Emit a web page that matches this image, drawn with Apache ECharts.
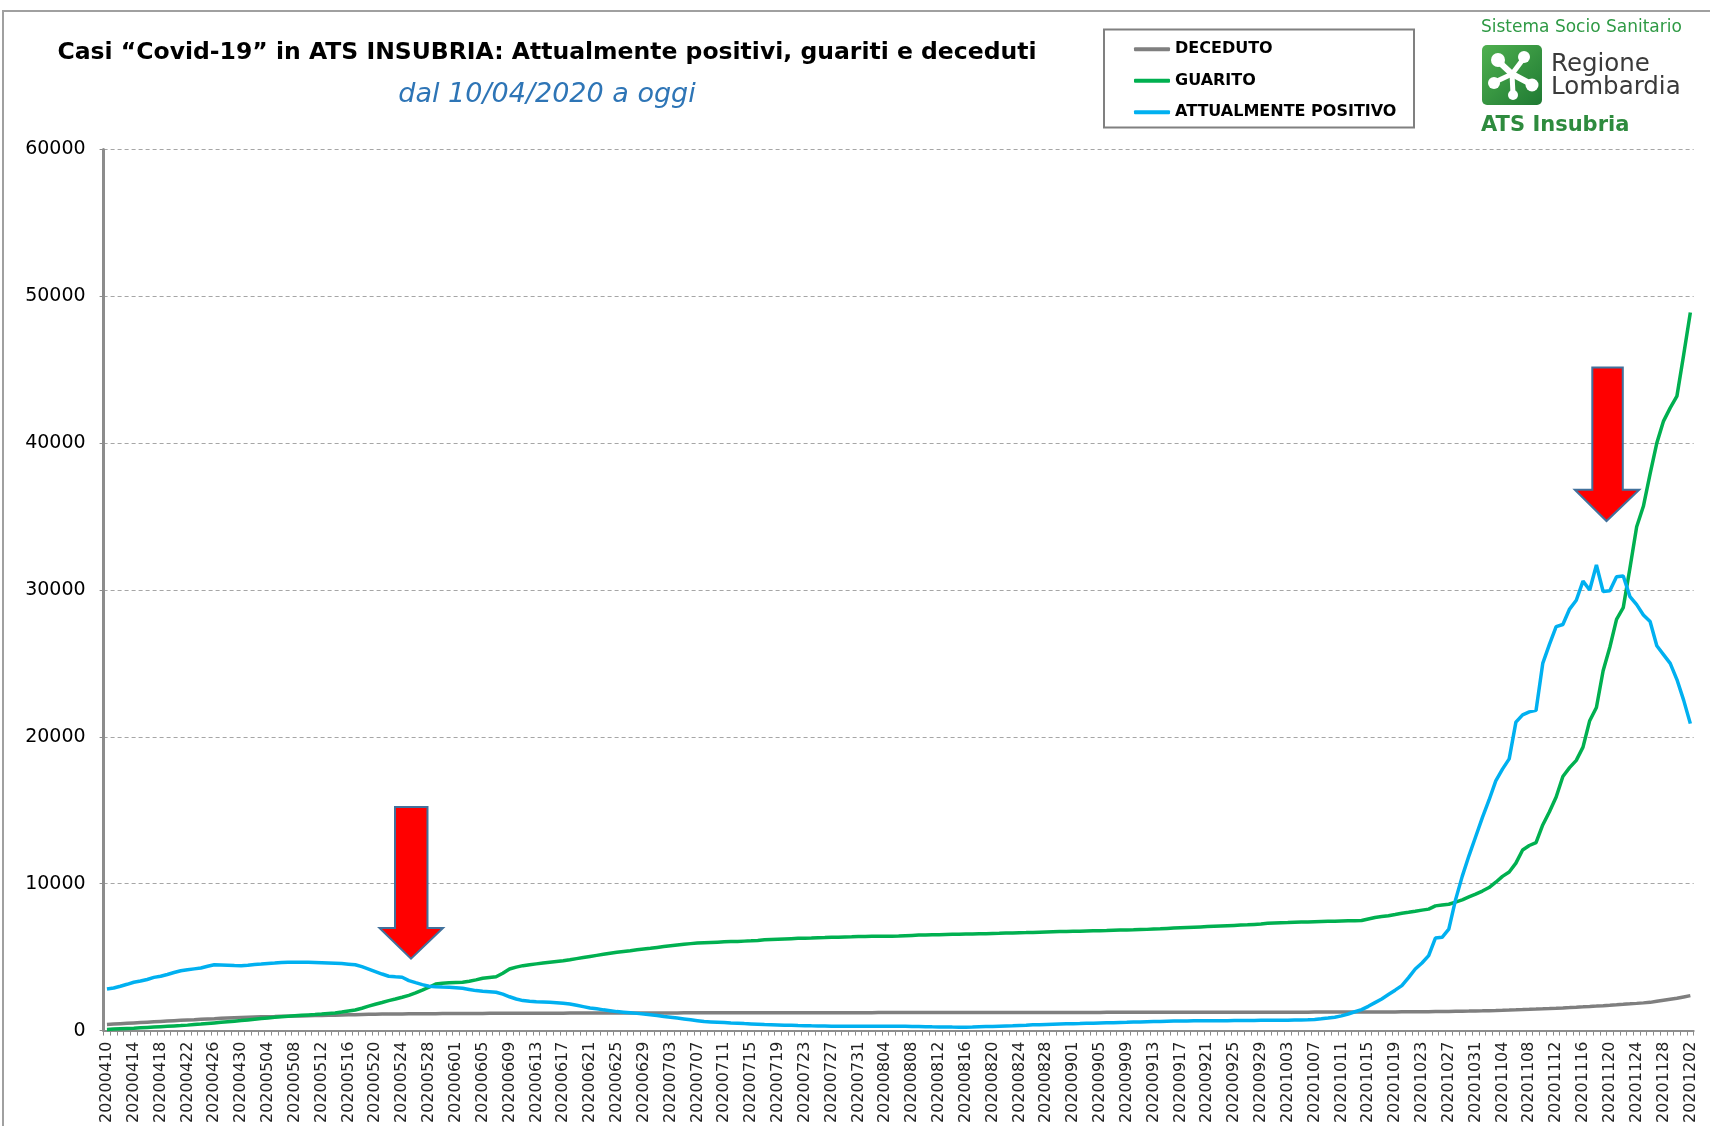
<!DOCTYPE html>
<html>
<head>
<meta charset="utf-8">
<script src="https://cdn.jsdelivr.net/npm/echarts@6/dist/echarts.min.js"></script>
<style>
html,body{margin:0;padding:0;background:#fff;}
#chart{width:1710px;height:1126px;}
</style>
</head>
<body>
<div id="chart"></div>
<script>
// ---- data ----
const seriesNames = ['DECEDUTO', 'GUARITO', 'ATTUALMENTE POSITIVO'];
const seriesColors = ['#7F7F7F', '#00B050', '#00B0F0'];
const yTicks = [0, 10000, 20000, 30000, 40000, 50000, 60000];

// daily categories 20200410 ... 20201202
const categories = (function () {
  const out = [];
  const d = new Date(Date.UTC(2020, 3, 10));
  const end = new Date(Date.UTC(2020, 11, 2));
  while (d <= end) {
    const s = d.getUTCFullYear() + String(d.getUTCMonth() + 1).padStart(2, '0') + String(d.getUTCDate()).padStart(2, '0');
    out.push(s);
    d.setUTCDate(d.getUTCDate() + 1);
  }
  return out;
})();

const deceduto = [
  420, 445, 470, 495, 520, 545, 570, 595, 620, 645,
  670, 695, 720, 740, 765, 790, 810, 835, 860, 875,
  890, 905, 920, 935, 945, 955, 968, 980, 990, 1000,
  1010, 1020, 1030, 1040, 1050, 1060, 1070, 1080, 1095, 1110,
  1115, 1120, 1125, 1130, 1134, 1138, 1142, 1146, 1150, 1153,
  1156, 1159, 1162, 1164, 1166, 1168, 1170, 1172, 1174, 1176,
  1178, 1180, 1181, 1182, 1183, 1184, 1185, 1186, 1187, 1188,
  1189, 1190, 1191, 1192, 1193, 1194, 1195, 1196, 1197, 1198,
  1199, 1200, 1201, 1202, 1203, 1204, 1205, 1206, 1207, 1208,
  1209, 1210, 1210, 1211, 1211, 1212, 1212, 1213, 1213, 1214,
  1214, 1215, 1215, 1216, 1216, 1217, 1217, 1218, 1218, 1219,
  1219, 1220, 1220, 1221, 1221, 1222, 1222, 1223, 1223, 1224,
  1224, 1225, 1225, 1226, 1226, 1227, 1227, 1228, 1228, 1229,
  1229, 1230, 1230, 1231, 1231, 1232, 1232, 1233, 1233, 1234,
  1234, 1235, 1235, 1236, 1236, 1237, 1237, 1238, 1238, 1239,
  1239, 1240, 1240, 1241, 1241, 1242, 1242, 1243, 1243, 1244,
  1244, 1245, 1245, 1246, 1246, 1247, 1247, 1248, 1248, 1249,
  1249, 1250, 1250, 1251, 1251, 1252, 1253, 1253, 1254, 1255,
  1256, 1257, 1258, 1259, 1260, 1261, 1262, 1263, 1264, 1266,
  1268, 1270, 1272, 1275, 1278, 1281, 1285, 1289, 1294, 1299,
  1304, 1311, 1318, 1326, 1335, 1345, 1356, 1368, 1381, 1395,
  1410, 1426, 1443, 1461, 1480, 1500, 1521, 1543, 1566, 1590,
  1615, 1641, 1668, 1696, 1725, 1755, 1786, 1818, 1851, 1885,
  1920, 1990, 2060, 2130, 2200, 2290, 2380
];

const guarito = [
  80, 100, 120, 140, 160, 190, 215, 240, 265, 290,
  315, 340, 370, 405, 440, 480, 520, 560, 600, 640,
  680, 725, 770, 815, 860, 900, 940, 980, 1010, 1040,
  1065, 1090, 1120, 1160, 1200, 1260, 1330, 1400, 1520, 1660,
  1790, 1910, 2040, 2150, 2270, 2400, 2560, 2750, 2950, 3170,
  3220, 3250, 3270, 3290, 3360, 3450, 3560, 3610, 3660, 3900,
  4190, 4320, 4420, 4480, 4540, 4600, 4650, 4700, 4750, 4820,
  4900, 4980, 5050, 5120, 5190, 5260, 5330, 5390, 5440, 5500,
  5550, 5600, 5660, 5720, 5770, 5820, 5870, 5920, 5960, 5980,
  6000, 6020, 6040, 6060, 6070, 6090, 6110, 6140, 6180, 6200,
  6220, 6240, 6260, 6280, 6290, 6300, 6320, 6330, 6350, 6360,
  6370, 6380, 6400, 6410, 6415, 6420, 6425, 6430, 6440, 6460,
  6480, 6500, 6510, 6520, 6530, 6540, 6550, 6560, 6570, 6580,
  6590, 6600, 6610, 6620, 6635, 6650, 6660, 6670, 6685, 6700,
  6715, 6730, 6740, 6750, 6760, 6770, 6780, 6790, 6800, 6810,
  6825, 6840, 6850, 6860, 6875, 6890, 6910, 6930, 6955, 6980,
  7000, 7020, 7040, 7060, 7080, 7100, 7120, 7140, 7160, 7180,
  7200, 7230, 7260, 7300, 7320, 7335, 7350, 7370, 7385, 7400,
  7415, 7430, 7440, 7450, 7460, 7470, 7480, 7490, 7600, 7700,
  7760, 7820, 7900, 7990, 8050, 8120, 8200, 8270, 8490, 8550,
  8600, 8750, 8900, 9100, 9290, 9500, 9740, 10100, 10500, 10800,
  11400, 12300, 12600, 12800, 14000, 14900, 15900, 17300, 17900, 18400,
  19300, 21100, 22000, 24500, 26100, 28000, 28800, 31500, 34300, 35700,
  37900, 40000, 41500, 42400, 43200, 46000, 48900
];

const positivo = [
  2830, 2900, 3020, 3150, 3290, 3370, 3480, 3620, 3700, 3820,
  3950, 4070, 4140, 4200, 4260, 4380, 4480, 4470, 4450, 4430,
  4420, 4450, 4500, 4530, 4570, 4600, 4640, 4650, 4660, 4650,
  4650, 4640, 4620, 4600, 4580, 4560, 4520, 4480, 4350, 4190,
  4020, 3850, 3700, 3660, 3630, 3400, 3260, 3130, 3020, 2980,
  2960, 2950, 2920, 2880, 2800, 2720, 2680, 2650, 2610, 2480,
  2300, 2150, 2040, 2000, 1970, 1950, 1930, 1900, 1860, 1810,
  1720, 1630, 1540, 1480, 1410, 1350, 1290, 1250, 1210, 1170,
  1130, 1080, 1020, 960, 910, 850, 790, 730, 670, 610,
  590, 570, 545, 520, 500, 475, 455, 435, 410, 400,
  385, 370, 355, 340, 330, 322, 315, 308, 300, 300,
  298, 296, 295, 295, 294, 294, 296, 298, 300, 295,
  285, 275, 265, 255, 248, 240, 235, 232, 230, 240,
  255, 270, 285, 300, 315, 330, 350, 365, 390, 400,
  415, 430, 445, 460, 470, 480, 495, 505, 520, 530,
  540, 555, 565, 580, 590, 600, 610, 620, 640, 645,
  650, 655, 660, 662, 665, 668, 670, 672, 680, 685,
  690, 690, 695, 700, 700, 705, 710, 715, 720, 735,
  760, 800, 850, 910, 1000, 1130, 1280, 1430, 1650, 1900,
  2150, 2450, 2750, 3060, 3600, 4190, 4600, 5100, 6300, 6350,
  6900, 8900, 10500, 11900, 13200, 14500, 15700, 17000, 17800, 18500,
  21000, 21500, 21700, 21800, 25000, 26300, 27500, 27650, 28700, 29300,
  30600, 30000, 31700, 29900, 29950, 30900, 30950, 29550, 29000, 28300,
  27850, 26200, 25600, 25000, 23900, 22500, 20900
];

const titleText = 'Casi “Covid-19” in ATS INSUBRIA: Attualmente positivi, guariti e deceduti';
const subtitleText = 'dal 10/04/2020 a oggi';

// ---- chart ----
const chart = echarts.init(document.getElementById('chart'), null, {renderer: 'canvas'});
const values = [deceduto, guarito, positivo];

const arrowStyle = {fill: '#FF0000', stroke: '#41719C', lineWidth: 2};

const option = {
  backgroundColor: '#ffffff',
  animation: false,
  grid: {left: 103.6, right: 16.3, top: 149.4, bottom: 94.3, containLabel: false},
  legend: {
    data: seriesNames,
    orient: 'vertical',
    left: 1134,
    top: 40,
    padding: 0,
    itemWidth: 36,
    itemHeight: 4,
    itemGap: 13,
    icon: 'roundRect',
    selectedMode: false,
    textStyle: {fontFamily: 'DejaVu Sans', fontWeight: 'bold', fontSize: 16, color: '#000', lineHeight: 18.5}
  },
  xAxis: {
    type: 'category',
    data: categories,
    boundaryGap: true,
    axisLine: {lineStyle: {color: '#8c8c8c', width: 2}},
    axisTick: {show: true, interval: 0, length: 5, lineStyle: {color: '#8c8c8c', width: 1}},
    axisLabel: {interval: 3, rotate: 90, fontFamily: 'DejaVu Sans', fontSize: 16, color: '#222', margin: 11},
    splitLine: {show: false}
  },
  yAxis: {
    type: 'value',
    min: yTicks[0],
    max: yTicks[yTicks.length - 1],
    interval: yTicks[1] - yTicks[0],
    axisLine: {show: true, lineStyle: {color: '#8c8c8c', width: 3}},
    axisTick: {show: true, length: 4, lineStyle: {color: '#8c8c8c'}},
    axisLabel: {fontFamily: 'DejaVu Sans', fontSize: 19, color: '#000', margin: 18, formatter: v => String(v)},
    splitLine: {show: true, lineStyle: {color: '#a6a6a6', width: 1, type: [4, 3]}}
  },
  series: seriesNames.map((n, k) => ({
    name: n,
    type: 'line',
    data: values[k],
    showSymbol: false,
    symbol: 'none',
    color: seriesColors[k],
    lineStyle: {width: 3.5, color: seriesColors[k]},
    z: 2 + k
  })),
  graphic: [
    {type: 'rect', z: 0, silent: true, shape: {x: 3, y: 11, width: 1800, height: 1300},
      style: {fill: 'none', stroke: '#a0a0a0', lineWidth: 2}},
    {type: 'rect', z: 0, silent: true, shape: {x: 1104, y: 29.5, width: 310, height: 98},
      style: {fill: 'none', stroke: '#808080', lineWidth: 2}},
    {type: 'text', z: 5, x: 547, y: 53, style: {text: titleText, font: 'bold 23.5px "DejaVu Sans"', fill: '#000', textAlign: 'center', textVerticalAlign: 'middle'}},
    {type: 'text', z: 5, x: 547, y: 95, style: {text: subtitleText, font: 'italic 27px "DejaVu Sans"', fill: '#2E75B6', textAlign: 'center', textVerticalAlign: 'middle'}},
    // logo
    {type: 'text', z: 5, x: 1481, y: 28, style: {text: 'Sistema Socio Sanitario', font: '17px "DejaVu Sans"', fill: '#2f9a45', textAlign: 'left', textVerticalAlign: 'middle'}},
    {type: 'rect', z: 5, shape: {x: 1482, y: 45, width: 60, height: 60, r: 5},
      style: {fill: new echarts.graphic.LinearGradient(0, 0, 1, 1, [{offset: 0, color: '#4fb04f'}, {offset: 1, color: '#1f7a33'}])}},
    {type: 'line', z: 6, shape: {x1: 1512, y1: 74, x2: 1498, y2: 61}, style: {stroke: '#fff', lineWidth: 6, lineCap: 'round'}},
    {type: 'line', z: 6, shape: {x1: 1512, y1: 74, x2: 1524, y2: 58}, style: {stroke: '#fff', lineWidth: 5, lineCap: 'round'}},
    {type: 'line', z: 6, shape: {x1: 1512, y1: 74, x2: 1495, y2: 82}, style: {stroke: '#fff', lineWidth: 5, lineCap: 'round'}},
    {type: 'line', z: 6, shape: {x1: 1512, y1: 74, x2: 1531, y2: 84}, style: {stroke: '#fff', lineWidth: 6, lineCap: 'round'}},
    {type: 'line', z: 6, shape: {x1: 1512, y1: 74, x2: 1513, y2: 94}, style: {stroke: '#fff', lineWidth: 5, lineCap: 'round'}},
    {type: 'circle', z: 6, shape: {cx: 1498, cy: 60, r: 7}, style: {fill: '#fff'}},
    {type: 'circle', z: 6, shape: {cx: 1524, cy: 57, r: 6}, style: {fill: '#fff'}},
    {type: 'circle', z: 6, shape: {cx: 1494, cy: 83, r: 6}, style: {fill: '#fff'}},
    {type: 'circle', z: 6, shape: {cx: 1532, cy: 85, r: 6.5}, style: {fill: '#fff'}},
    {type: 'circle', z: 6, shape: {cx: 1513, cy: 95, r: 5}, style: {fill: '#fff'}},
    {type: 'text', z: 5, x: 1551, y: 65, style: {text: 'Regione', font: '24.5px "DejaVu Sans"', fill: '#3a3a3a', textAlign: 'left', textVerticalAlign: 'middle'}},
    {type: 'text', z: 5, x: 1551, y: 88, style: {text: 'Lombardia', font: '24.5px "DejaVu Sans"', fill: '#3a3a3a', textAlign: 'left', textVerticalAlign: 'middle'}},
    {type: 'text', z: 5, x: 1481, y: 126, style: {text: 'ATS Insubria', font: 'bold 21px "DejaVu Sans"', fill: '#2e8b3e', textAlign: 'left', textVerticalAlign: 'middle'}},
    // arrows
    {type: 'polygon', z: 10, shape: {points: [[395, 807], [427.5, 807], [427.5, 928], [443, 928], [411, 958.7], [379.5, 928], [395, 928]]}, style: arrowStyle},
    {type: 'polygon', z: 10, shape: {points: [[1592.3, 367.5], [1622.8, 367.5], [1622.8, 489.7], [1639.2, 489.7], [1606.5, 521], [1574.8, 489.7], [1592.3, 489.7]]}, style: arrowStyle}
  ]
};
chart.setOption(option);
</script>
</body>
</html>
